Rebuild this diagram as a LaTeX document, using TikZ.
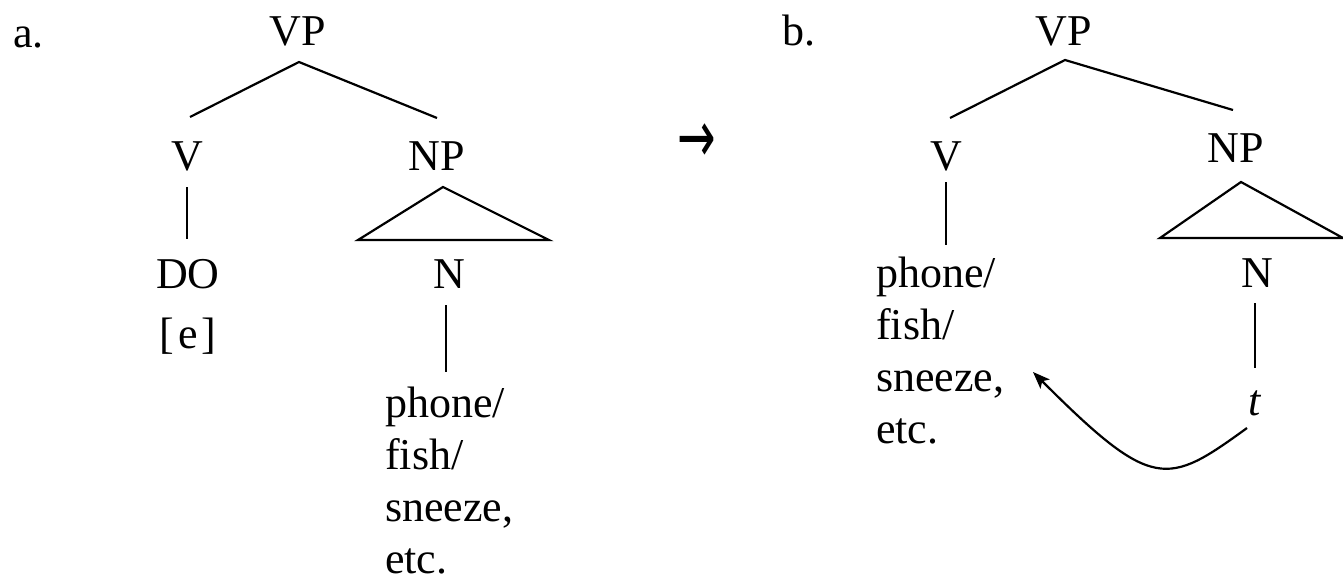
\documentclass[tikz,border=0pt]{standalone}
\usepackage{fontspec}
\usepackage{graphicx}
\setmainfont{Liberation Serif}
\newfontfamily\arrowfont{DejaVu Sans}
\usetikzlibrary{arrows.meta}
\begin{document}
\begin{tikzpicture}[x=1pt,y=-1pt,
  lbl/.style={inner sep=0pt,font=\fontsize{44}{53}\selectfont},
  lst/.style={inner sep=0pt,align=left,font=\fontsize{44}{52}\selectfont},
  edge/.style={line width=2.2pt,line join=miter},
  move/.style={line width=2.2pt,-{Stealth[length=17pt,width=13pt,inset=4pt]}}]
\useasboundingbox (0,0) rectangle (1343,581);
% ---------- tree a ----------
\node[lbl,anchor=base west] (la) at (13,47) {a.};
\node[lbl,anchor=base] (vpa) at (298,45) {VP};
\node[lbl,anchor=base] (va) at (187,170) {V};
\node[lbl,anchor=base] (npa) at (437,170) {NP};
\node[lbl,anchor=base] (doa) at (188,288) {DO};
\node[lbl,anchor=base] (ea) at (188,348) {[\kern4pt e\kern4pt]};
\node[lbl,anchor=base] (na) at (449,288) {N};
\node[lst,anchor=north west] (lista) at (385,387) {phone/\\fish/\\sneeze,\\etc.};
\coordinate (apa) at (299,62);
\coordinate (vta) at (190,117);
\coordinate (npta) at (437,118);
\coordinate (vba) at (187,187);
\coordinate (doat) at (187,239);
\coordinate (tria) at (443,187);
\coordinate (trla) at (358,240);
\coordinate (trra) at (549,240);
\coordinate (nba) at (446,305);
\coordinate (lta) at (446,372);
\draw[edge] (vta) -- (apa) -- (npta);
\draw[edge] (vba) -- (doat);
\draw[edge] (tria) -- (trla) -- (trra) -- cycle;
\draw[edge] (nba) -- (lta);
% ---------- arrow ----------
\node[inner sep=0pt,font=\arrowfont\fontsize{46}{50}\selectfont] (arr) at (697,143) {\scalebox{1}[1.6]{→}};
% ---------- tree b ----------
\node[lbl,anchor=base west] (lb) at (782,45) {b.};
\node[lbl,anchor=base] (vpb) at (1064,45) {VP};
\node[lbl,anchor=base] (vb) at (946,170) {V};
\node[lbl,anchor=base] (npb) at (1236,162) {NP};
\node[lst,anchor=north west] (listb) at (876,257) {phone/\\fish/\\sneeze,\\etc.};
\node[lbl,anchor=base] (nb) at (1257,287) {N};
\node[lbl,anchor=base] (tb) at (1255,415) {\textit{t}};
\coordinate (apb) at (1065,60);
\coordinate (vtb) at (950,118);
\coordinate (nptb) at (1233,110);
\coordinate (vbb) at (946,182);
\coordinate (lbt) at (946,245);
\coordinate (trib) at (1241,182);
\coordinate (trlb) at (1160,238);
\coordinate (trrb) at (1343,238);
\coordinate (nbb) at (1255,303);
\coordinate (tbt) at (1255,368);
\coordinate (mvs) at (1247,428);
\coordinate (mve) at (1033,372);
\draw[edge] (vtb) -- (apb) -- (nptb);
\draw[edge] (vbb) -- (lbt);
\draw[edge] (trib) -- (trlb) -- (trrb) -- cycle;
\draw[edge] (nbb) -- (tbt);
\draw[move] (mvs) .. controls (1167,486) and (1153,492) .. (mve);
\end{tikzpicture}
\end{document}
